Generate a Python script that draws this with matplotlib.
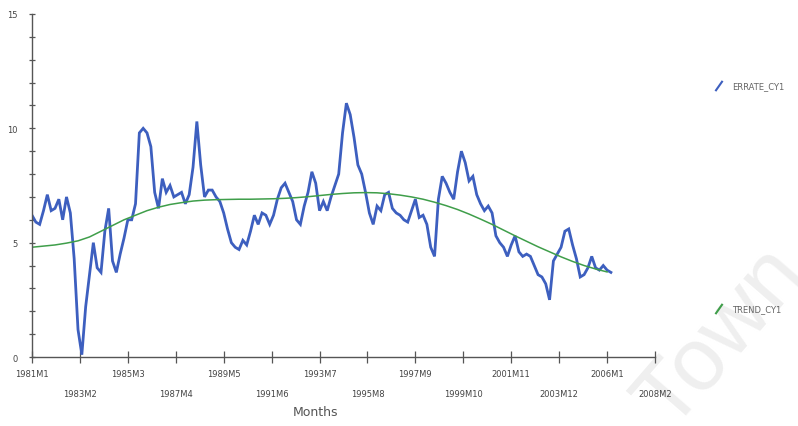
import numpy as np
import pandas as pd
import matplotlib
matplotlib.use("Agg")
import matplotlib.pyplot as plt
from matplotlib.lines import Line2D

# cyclical series, sampled every 2 months from 1981M1
series_step = 2
series = [
    6.2, 5.9, 5.8, 6.4, 7.1, 6.4, 6.5, 6.9, 6.0, 7.0, 6.3, 4.3,
    1.2, 0.1, 2.2, 3.6, 5.0, 3.9, 3.7, 5.5, 6.5, 4.2, 3.7, 4.5,
    5.2, 6.0, 6.0, 6.7, 9.8, 10.0, 9.8, 9.2, 7.2, 6.5, 7.8, 7.2,
    7.5, 7.0, 7.1, 7.2, 6.7, 7.1, 8.3, 10.3, 8.4, 7.0, 7.3, 7.3,
    7.0, 6.8, 6.3, 5.6, 5.0, 4.8, 4.7, 5.1, 4.9, 5.5, 6.2, 5.8,
    6.3, 6.2, 5.8, 6.2, 6.9, 7.4, 7.6, 7.2, 6.8, 6.0, 5.8, 6.6,
    7.2, 8.1, 7.6, 6.4, 6.8, 6.4, 7.0, 7.5, 8.0, 9.8, 11.1, 10.6,
    9.6, 8.4, 8.0, 7.2, 6.3, 5.8, 6.6, 6.4, 7.1, 7.2, 6.5, 6.3,
    6.2, 6.0, 5.9, 6.4, 6.9, 6.1, 6.2, 5.8, 4.8, 4.4, 6.9, 7.9,
    7.6, 7.2, 6.9, 8.1, 9.0, 8.5, 7.7, 7.9, 7.1, 6.7, 6.4, 6.6,
    6.3, 5.3, 5.0, 4.8, 4.4, 4.9, 5.3, 4.6, 4.4, 4.5, 4.4, 4.0,
    3.6, 3.5, 3.2, 2.5, 4.2, 4.5, 4.8, 5.5, 5.6, 4.9, 4.3, 3.5,
    3.6, 3.9, 4.4, 3.9, 3.8, 4.0, 3.8, 3.7,
]

# smooth trend, sampled every 6 months from 1981M1
trend_step = 6
trend = [
    4.80, 4.85, 4.90, 4.98, 5.08, 5.25, 5.50, 5.75, 6.00, 6.20,
    6.40, 6.55, 6.67, 6.75, 6.82, 6.86, 6.88, 6.89, 6.90, 6.90,
    6.91, 6.92, 6.94, 6.97, 7.01, 7.06, 7.11, 7.15, 7.18, 7.19,
    7.18, 7.14, 7.08, 7.00, 6.90, 6.77, 6.62, 6.45, 6.25, 6.03,
    5.80, 5.55, 5.30, 5.06, 4.82, 4.60, 4.38, 4.18, 4.00, 3.85,
    3.72,
]

series_name = "ERRATE_CY1"
trend_name = "TREND_CY1"

# axis ticks every 25 months from 1981M1
tick_every = 25
n_ticks = 14
start = pd.Period("1981-01", freq="M")
tick_pos = [i * tick_every for i in range(n_ticks)]
tick_labels = [f"{(start + m).year}M{(start + m).month}" for m in tick_pos]

x_series = np.arange(len(series)) * series_step
x_trend = np.arange(len(trend)) * trend_step

fig = plt.figure(figsize=(7.98, 4.27), dpi=100)

# faint watermark behind everything
fig.text(722 / 798, 1 - 338 / 427, "Town", rotation=49, ha="center", va="center",
         fontsize=64, family="Liberation Sans", color="#efefef", zorder=-1)

ax = fig.add_axes([32 / 798, 1 - 358 / 427, (655 - 32) / 798, (358 - 15) / 427])
ax.patch.set_alpha(0)

ax.plot(x_series, series, color="#3d5fbf", lw=2.0, solid_joinstyle="miter")
ax.plot(x_trend, trend, color="#3f9e4a", lw=1.1)

ax.set_xlim(0, tick_pos[-1])
ax.set_ylim(0, 15)
for side in ("top", "right"):
    ax.spines[side].set_visible(False)
for side in ("left", "bottom"):
    ax.spines[side].set_color("#555555")
    ax.spines[side].set_linewidth(1.0)

ax.set_xticks(tick_pos)
ax.set_xticklabels([])
ax.tick_params(axis="x", direction="inout", length=9, width=0.9, color="#555555")
for i, (pos, lab) in enumerate(zip(tick_pos, tick_labels)):
    ax.annotate(lab, xy=(pos, 0), xycoords=("data", "axes fraction"),
                xytext=(0, -12 if i % 2 == 0 else -26), textcoords="offset points",
                ha="center", va="center", fontsize=6, color="#444444",
                annotation_clip=False)

ax.set_yticks(np.arange(0, 16, 1))
ax.set_yticklabels([str(v) if v % 5 == 0 else "" for v in range(16)],
                   fontsize=6, color="#444444")
ax.tick_params(axis="y", direction="inout", length=5, width=0.9, color="#555555", pad=8)

fig.text(315 / 798, 1 - 413 / 427, "Months", ha="center", va="center",
         fontsize=9, color="#555555")

# legend entries at the right edge
for y_px, name, color in [(87, series_name, "#3d5fbf"), (310, trend_name, "#3f9e4a")]:
    yf = 1 - y_px / 427
    fig.add_artist(Line2D([716 / 798, 722 / 798], [yf - 0.01, yf + 0.01],
                          color=color, lw=1.5, transform=fig.transFigure))
    fig.text(732 / 798, yf, name, ha="left", va="center", fontsize=6, color="#666666")

fig.savefig("out.png", dpi=100)
